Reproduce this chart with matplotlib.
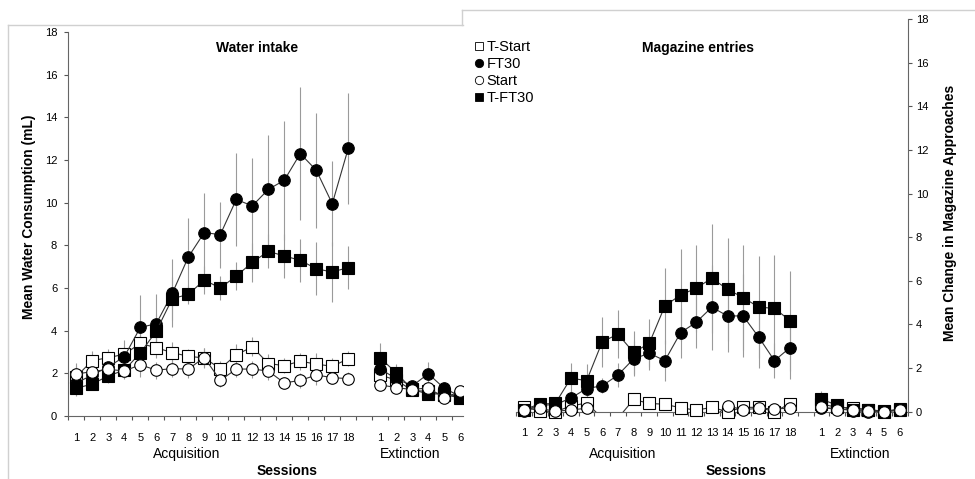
import numpy as np
import matplotlib
matplotlib.use("Agg")
import matplotlib.pyplot as plt
from matplotlib.lines import Line2D

plt.rcParams['font.family'] = ['Liberation Sans', 'DejaVu Sans']

# --------------------
# Données
# --------------------
acq_sessions = list(range(1, 19))
ext_sessions = list(range(1, 7))
groups = ["T-Start", "FT30", "Start", "T-FT30"]

# Water intake (mL)
water_tstart_acq = [1.85, 2.6, 2.73, 2.9, 3.4, 3.2, 2.97, 2.8, 2.72, 2.22, 2.87, 3.24, 2.46, 2.36, 2.57, 2.43, 2.33, 2.68]
water_tstart_ext = [1.92, 1.68, 1.2, 1.15, 1.0, 0.85]
water_tstart_se_acq = [0.5, 0.45, 0.4, 0.4, 0.5, 0.5, 0.5, 0.35, 0.45, 0.35, 0.5, 0.45, 0.45, 0.35, 0.4, 0.5, 0.4, 0.35]
water_tstart_se_ext = [0.3, 0.3, 0.15, 0.2, 0.15, 0.1]

water_ft30_acq = [1.55, 1.92, 2.3, 2.78, 4.15, 4.33, 5.75, 7.45, 8.6, 8.5, 10.15, 9.85, 10.62, 11.05, 12.3, 11.52, 9.95, 12.55]
water_ft30_ext = [2.2, 1.75, 1.41, 1.98, 1.3, 0.92]
water_ft30_se_acq = [0.6, 0.5, 0.5, 0.8, 1.5, 1.4, 1.6, 1.85, 1.85, 1.55, 2.2, 2.25, 2.55, 2.8, 3.1, 2.7, 2.0, 2.6]
water_ft30_se_ext = [0.4, 0.3, 0.2, 0.55, 0.3, 0.2]

water_start_acq = [1.97, 2.08, 2.19, 2.11, 2.4, 2.15, 2.22, 2.2, 2.74, 1.67, 2.2, 2.2, 2.11, 1.55, 1.67, 1.92, 1.8, 1.75]
water_start_ext = [1.46, 1.33, 1.24, 1.32, 0.85, 1.15]
water_start_se_acq = [0.5, 0.35, 0.3, 0.35, 0.55, 0.4, 0.4, 0.4, 0.45, 0.3, 0.35, 0.4, 0.4, 0.3, 0.35, 0.45, 0.3, 0.3]
water_start_se_ext = [0.25, 0.2, 0.15, 0.2, 0.2, 0.15]

water_tft30_acq = [1.3, 1.5, 1.88, 2.15, 2.95, 3.98, 5.5, 5.7, 6.37, 6.0, 6.56, 7.2, 7.72, 7.5, 7.3, 6.9, 6.75, 6.96]
water_tft30_ext = [2.72, 2.02, 1.25, 1.02, 1.05, 0.9]
water_tft30_se_acq = [0.3, 0.3, 0.35, 0.4, 0.6, 0.8, 1.0, 0.45, 0.65, 0.55, 0.65, 0.9, 0.8, 1.05, 1.0, 1.25, 1.4, 1.0]
water_tft30_se_ext = [0.7, 0.4, 0.2, 0.2, 0.15, 0.15]

# Magazine entries (mean change)
mag_tstart_acq = [0.22, 0.04, 0.0, 0.26, 0.4, -0.3, -0.3, 0.56, 0.38, 0.34, 0.18, 0.07, 0.2, 0.0, 0.2, 0.2, 0.0, 0.37]
mag_tstart_ext = [0.35, 0.2, 0.18, 0.1, 0.0, 0.06]
mag_tstart_se_acq = [0.1, 0.1, 0.1, 0.15, 0.15, 0.1, 0.1, 0.2, 0.15, 0.15, 0.15, 0.1, 0.15, 0.1, 0.15, 0.15, 0.1, 0.15]
mag_tstart_se_ext = [0.1, 0.1, 0.05, 0.05, 0.05, 0.05]

mag_ft30_acq = [0.05, 0.3, 0.32, 0.63, 1.06, 1.19, 1.68, 2.42, 2.68, 2.34, 3.62, 4.1, 4.79, 4.39, 4.39, 3.41, 2.34, 2.94]
mag_ft30_ext = [0.18, 0.15, 0.05, 0.0, 0.0, 0.1]
mag_ft30_se_acq = [0.05, 0.1, 0.15, 0.35, 0.4, 0.35, 0.55, 0.8, 0.78, 0.95, 1.15, 1.2, 1.95, 1.65, 1.9, 1.4, 0.8, 1.45]
mag_ft30_se_ext = [0.1, 0.05, 0.05, 0.05, 0.05, 0.05]

mag_start_acq = [0.1, 0.15, 0.02, 0.08, 0.16, -0.25, -0.5, -0.4, -0.6, -0.5, -0.5, -0.4, -0.3, 0.26, 0.1, 0.15, 0.14, 0.15]
mag_start_ext = [0.2, 0.1, 0.1, 0.05, 0.0, 0.1]
mag_start_se_acq = [0.1, 0.1, 0.05, 0.1, 0.1, 0.1, 0.1, 0.1, 0.1, 0.1, 0.1, 0.1, 0.1, 0.15, 0.1, 0.1, 0.1, 0.1]
mag_start_se_ext = [0.05, 0.05, 0.05, 0.05, 0.05, 0.05]

mag_tft30_acq = [0.1, 0.35, 0.38, 1.54, 1.42, 3.21, 3.55, 2.72, 3.13, 4.85, 5.35, 5.66, 6.12, 5.61, 5.23, 4.79, 4.74, 4.17]
mag_tft30_ext = [0.57, 0.3, 0.06, 0.1, 0.02, 0.12]
mag_tft30_se_acq = [0.1, 0.15, 0.2, 0.7, 0.75, 1.15, 1.1, 1.0, 1.1, 1.75, 2.1, 2.0, 2.5, 2.35, 2.4, 2.35, 2.45, 2.3]
mag_tft30_se_ext = [0.4, 0.2, 0.05, 0.05, 0.05, 0.05]

# --------------------
# Styles
# --------------------
styles = {
    "T-Start": dict(marker="s", mfc="white"),
    "FT30": dict(marker="o", mfc="black"),
    "Start": dict(marker="o", mfc="white"),
    "T-FT30": dict(marker="s", mfc="black"),
}
draw_order = ["T-Start", "FT30", "T-FT30", "Start"]

x_acq = np.array(acq_sessions)
x_ext = np.array(ext_sessions) + 19  # une case vide entre les deux phases

water = {
    "T-Start": (water_tstart_acq, water_tstart_ext, water_tstart_se_acq, water_tstart_se_ext),
    "FT30": (water_ft30_acq, water_ft30_ext, water_ft30_se_acq, water_ft30_se_ext),
    "Start": (water_start_acq, water_start_ext, water_start_se_acq, water_start_se_ext),
    "T-FT30": (water_tft30_acq, water_tft30_ext, water_tft30_se_acq, water_tft30_se_ext),
}
mag = {
    "T-Start": (mag_tstart_acq, mag_tstart_ext, mag_tstart_se_acq, mag_tstart_se_ext),
    "FT30": (mag_ft30_acq, mag_ft30_ext, mag_ft30_se_acq, mag_ft30_se_ext),
    "Start": (mag_start_acq, mag_start_ext, mag_start_se_acq, mag_start_se_ext),
    "T-FT30": (mag_tft30_acq, mag_tft30_ext, mag_tft30_se_acq, mag_tft30_se_ext),
}

W, H = 975, 479
fig = plt.figure(figsize=(W / 100, H / 100), dpi=100)


def px(x, y):
    return x / W, 1 - y / H


ax1 = fig.add_axes([68.3 / W, 63 / H, 395 / W, 384 / H])
ax2 = fig.add_axes([516.2 / W, 67.3 / H, 391.3 / W, 392.7 / H])


def draw_panel(ax, data, clip_markers):
    for i, g in enumerate(draw_order):
        y_a, y_e, se_a, se_e = data[g]
        st = styles[g]
        for xx, yy, ee in ((x_acq, y_a, se_a), (x_ext, y_e, se_e)):
            yy = np.array(yy)
            ax.errorbar(xx, yy, yerr=ee, fmt="none", ecolor="#9a9a9a",
                        elinewidth=0.8, capsize=0, zorder=2)
            ax.plot(xx, yy, color="#333333", lw=0.8, zorder=3 + i)
            # marqueurs non coupés par l'axe (sauf valeurs hors échelle)
            ok = yy >= 0
            ax.plot(xx[ok], yy[ok], ls="none", marker=st["marker"], ms=8.3,
                    mfc=st["mfc"], mec="black", mew=0.8, zorder=3 + i,
                    clip_on=clip_markers)
    ax.set_ylim(0, 18)
    ax.set_yticks(np.arange(0, 19, 2))
    # ticks entre les catégories, étiquettes au centre
    ax.set_xticks(np.arange(0.5, 26, 1))
    ax.set_xticklabels([])
    ax.set_xticks(list(x_acq) + list(x_ext), minor=True)
    ax.set_xticklabels([str(s) for s in acq_sessions] + [str(s) for s in ext_sessions],
                       minor=True)
    ax.tick_params(axis="x", which="major", length=3, color="#555555", width=0.8)
    ax.tick_params(axis="x", which="minor", length=0, pad=12, labelsize=8)
    ax.tick_params(axis="y", length=3, color="#555555", width=0.8, labelsize=8)
    for s in ax.spines.values():
        s.set_color("#666666")
        s.set_linewidth(0.8)
    ax.spines["top"].set_visible(False)


draw_panel(ax1, water, True)
ax1.set_xlim(0.5, 25.19)
ax1.spines["right"].set_visible(False)
ax1.tick_params(axis="y", pad=5)

draw_panel(ax2, mag, False)
ax2.set_xlim(0.5, 25.5)
ax2.spines["left"].set_visible(False)
ax2.yaxis.tick_right()
ax2.tick_params(axis="y", pad=3)

# Cadres gris clair (style tableur)
frame_c = "#d0d0d0"
for (xa, ya), (xb, yb) in [((8, 25), (463, 25)), ((8, 25), (8, 479)),
                           ((462, 25), (462, 10)), ((462, 10), (975, 10))]:
    fig.add_artist(Line2D([xa / W, xb / W], [1 - ya / H, 1 - yb / H],
                          color=frame_c, lw=1))

# Textes
bold = dict(fontsize=10, fontweight="bold", ha="center", va="center")
fig.text(*px(257, 48), "Water intake", **bold)
fig.text(*px(698, 48), "Magazine entries", **bold)
fig.text(*px(29, 217), "Mean Water Consumption (mL)", rotation=90, **bold)
fig.text(*px(950, 213), "Mean Change in Magazine Approaches", rotation=90, **bold)
fig.text(*px(287, 471), "Sessions", **bold)
fig.text(*px(736, 471), "Sessions", **bold)
reg = dict(fontsize=10, ha="center", va="center")
fig.text(*px(187, 454), "Acquisition", **reg)
fig.text(*px(410, 454), "Extinction", **reg)
fig.text(*px(623, 454), "Acquisition", **reg)
fig.text(*px(860, 454), "Extinction", **reg)

# Légende
handles = [Line2D([], [], ls="none", marker=styles[g]["marker"], ms=6,
                  mfc=styles[g]["mfc"], mec="black", mew=0.6) for g in groups]
fig.legend(handles, groups, loc="upper left", bbox_to_anchor=px(475, 40),
           frameon=False, fontsize=10.5, handlelength=0.6, handletextpad=0.2,
           labelspacing=0.2, borderaxespad=0, borderpad=0)

fig.savefig("out.png", dpi=100)
